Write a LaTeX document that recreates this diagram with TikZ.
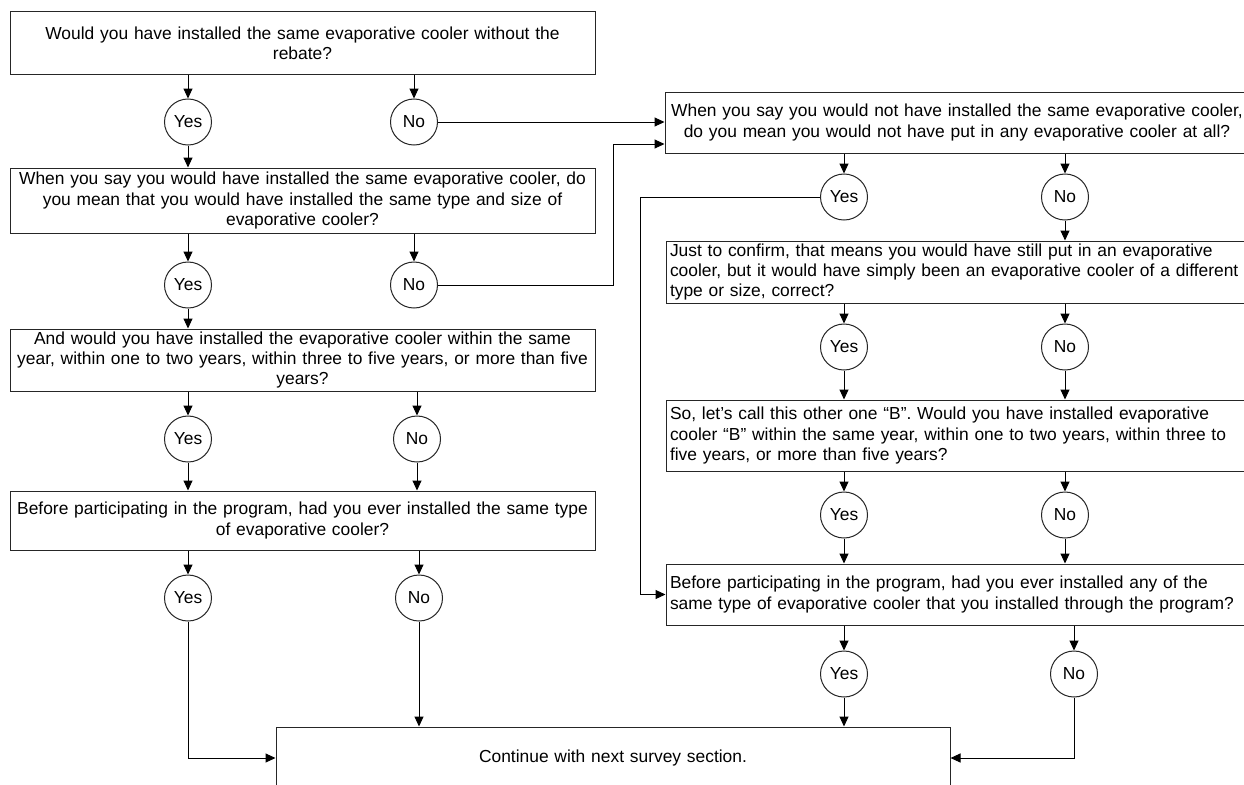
\documentclass[tikz,border=0pt]{standalone}
\usepackage{fontspec}
\setmainfont{Liberation Sans}
\usetikzlibrary{arrows.meta,shapes.geometric}
\begin{document}
\begin{tikzpicture}[x=1pt,y=-1pt,
  txt/.style={font=\fontsize{17.4}{20.3}\selectfont},
  qbox/.style={txt,draw=black!85,line width=1pt,rectangle,inner xsep=0pt,inner ysep=0pt},
  lbox/.style={qbox,text width=585pt,align=center},
  rbox/.style={qbox,inner xsep=4pt,text width=576pt,align=left},
  ans/.style={txt,draw=black!85,line width=1pt,ellipse,minimum width=47pt,minimum height=46pt,inner sep=0pt},
  link/.style={draw=black,line width=1pt,-{Triangle[length=10pt,width=9pt]}},
  wire/.style={draw=black,line width=1pt}]
\useasboundingbox (0,0) rectangle (1244,784);
\clip (0,0) rectangle (1244,784);
\fill[white] (0,0) rectangle (1244,784);

% left column
\node[lbox,minimum height=62pt] (A) at (302.5,43) {Would you have installed the same evaporative cooler without the\\ rebate?};
\node[ans] (yA) at (188,122) {Yes};
\node[ans] (nA) at (414,122) {No};
\node[lbox,minimum height=65pt] (B) at (302.5,200.5) {When you say you would have installed the same evaporative cooler, do\\ you mean that you would have installed the same type and size of\\ evaporative cooler?};
\node[ans] (yB) at (188,285) {Yes};
\node[ans] (nB) at (414,285) {No};
\node[lbox,minimum height=62pt] (C) at (302.5,360) {And would you have installed the evaporative cooler within the same\\ year, within one to two years, within three to five years, or more than five\\ years?};
\node[ans] (yC) at (188,439) {Yes};
\node[ans] (nC) at (417,439) {No};
\node[lbox,minimum height=59pt] (D) at (302.5,520.5) {Before participating in the program, had you ever installed the same type\\ of evaporative cooler?};
\node[ans] (yD) at (188,598) {Yes};
\node[ans] (nD) at (419,598) {No};

% final box
\node[qbox,text width=674pt,align=center,minimum height=62pt] (E) at (613,758) {Continue with next survey section.};

% right column
\node[qbox,text width=584pt,align=center,minimum height=61pt] (F) at (957,122.5) {When you say you would not have installed the same evaporative cooler,\\ do you mean you would not have put in any evaporative cooler at all?};
\node[ans] (yF) at (844,197) {Yes};
\node[ans] (nF) at (1065,197) {No};
\node[rbox,minimum height=62pt] (G) at (958,272) {Just to confirm, that means you would have still put in an evaporative\\ cooler, but it would have simply been an evaporative cooler of a different\\ type or size, correct?};
\node[ans] (yG) at (844,347) {Yes};
\node[ans] (nG) at (1065,347) {No};
\node[rbox,minimum height=71pt] (H) at (958,435.5) {So, let’s call this other one “B”. Would you have installed evaporative\\ cooler “B” within the same year, within one to two years, within three to\\ five years, or more than five years?};
\node[ans] (yH) at (844,515) {Yes};
\node[ans] (nH) at (1065,515) {No};
\node[rbox,minimum height=61pt] (I) at (958,594.5) {Before participating in the program, had you ever installed any of the\\ same type of evaporative cooler that you installed through the program?};
\node[ans] (yI) at (844,674) {Yes};
\node[ans] (nI) at (1074,674) {No};

\coordinate (jB) at (613,144);
\coordinate (jF) at (640,594.5);

% left connectors
\draw[link] (yA |- A.south) -- (yA.north);
\draw[link] (nA |- A.south) -- (nA.north);
\draw[link] (yA.south) -- (yA |- B.north);
\draw[link] (nA.east) -- (nA -| F.west);
\draw[link] (yB |- B.south) -- (yB.north);
\draw[link] (nB |- B.south) -- (nB.north);
\draw[link] (nB.east) -| (jB) -- (jB -| F.west);
\draw[link] (yB.south) -- (yB |- C.north);
\draw[link] (yC |- C.south) -- (yC.north);
\draw[link] (nC |- C.south) -- (nC.north);
\draw[link] (yC.south) -- (yC |- D.north);
\draw[link] (nC.south) -- (nC |- D.north);
\draw[link] (yD |- D.south) -- (yD.north);
\draw[link] (nD |- D.south) -- (nD.north);
\draw[link] (yD.south) |- (E.west);
\draw[link] (nD.south) -- (nD |- E.north);

% right connectors
\draw[link] (yF |- F.south) -- (yF.north);
\draw[link] (nF |- F.south) -- (nF.north);
\draw[link] (yF.west) -| (jF) -- (I.west);
\draw[link] (nF.south) -- (nF |- G.north);
\draw[link] (yG |- G.south) -- (yG.north);
\draw[link] (nG |- G.south) -- (nG.north);
\draw[link] (yG.south) -- (yG |- H.north);
\draw[link] (nG.south) -- (nG |- H.north);
\draw[link] (yH |- H.south) -- (yH.north);
\draw[link] (nH |- H.south) -- (nH.north);
\draw[link] (yH.south) -- (yH |- I.north);
\draw[link] (nH.south) -- (nH |- I.north);
\draw[link] (yI |- I.south) -- (yI.north);
\draw[link] (nI |- I.south) -- (nI.north);
\draw[link] (yI.south) -- (yI |- E.north);
\draw[link] (nI.south) |- (E.east);
\end{tikzpicture}
\end{document}
